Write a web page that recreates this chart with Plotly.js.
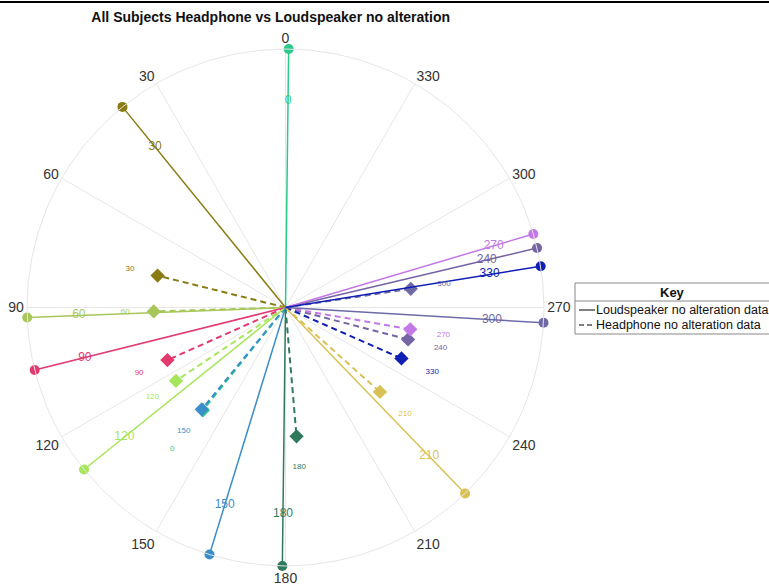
<!DOCTYPE html>
<html>
<head>
<meta charset="utf-8">
<script src="https://cdn.plot.ly/plotly-3.0.1.min.js"></script>
<style>html,body{margin:0;padding:0;background:#fff;}#chart{width:769px;height:586px;}</style>
</head>
<body>
<div id="chart"></div>
<script>
// Target directions (degrees)
const targets = [0, 30, 60, 90, 120, 150, 180, 210, 240, 270, 300, 330];
// Loudspeaker perceived direction (degrees) and length
const loudTheta = [359.3, 39.1, 92.2, 104.0, 128.8, 162.9, 179.3, 224.0, 283.3, 286.5, 266.6, 279.2];
const loudR = [1, 1, 1, 1, 1, 1, 1, 1, 1, 1, 1, 1];
// Headphone perceived direction (degrees) and length
const hpTheta = [141.2, 76.0, 91.7, 114.0, 123.8, 140.6, 184.9, 228.2, 255.4, 260.1, 278.5, 246.3];
const hpR = [0.51, 0.51, 0.51, 0.50, 0.51, 0.51, 0.50, 0.49, 0.49, 0.49, 0.49, 0.49];
const colors = ['#2bc98a', '#8a7a12', '#a9c65a', '#e23a6e', '#a6e65a', '#3b8fc9',
                '#2f7a5c', '#d9c155', '#7564a3', '#c477e6', '#6e6aa8', '#0f1fb4'];
const angTicks = ['0','30','60','90','120','150','180','210','240','270','300','330'];
const legendNames = ['Loudspeaker no alteration data', 'Headphone no alteration data'];

const FONT = 'Arial, Liberation Sans, sans-serif';
const traces = [];
// headphone (dashed)
targets.forEach((t, i) => {
  traces.push({
    type: 'scatterpolar', mode: 'lines+markers',
    r: [0, hpR[i]], theta: [hpTheta[i], hpTheta[i]],
    line: {color: colors[i], width: 2, dash: '6px,4px'},
    marker: {symbol: 'diamond', size: [0, 11], color: colors[i], opacity: 1, line: {width: 0}},
    showlegend: false, hoverinfo: 'skip'
  });
});
// loudspeaker (solid)
targets.forEach((t, i) => {
  traces.push({
    type: 'scatterpolar', mode: 'lines+markers',
    r: [0, loudR[i]], theta: [loudTheta[i], loudTheta[i]],
    line: {color: colors[i], width: 1.5},
    marker: {symbol: 'circle', size: [0, 10], color: colors[i], opacity: 1, line: {width: 0}},
    showlegend: false, hoverinfo: 'skip'
  });
});
// loudspeaker labels with small stagger where labels crowd together
const loudLabR = [];
loudTheta.forEach((th, i) => {
  let r = 0.8;
  for (let j = 0; j < i; j++) {
    if (Math.abs(loudTheta[j] - th) < 3.5 && Math.abs(loudLabR[j] - r) < 0.03) r += 0.04;
  }
  loudLabR.push(r);
});
traces.push({
  type: 'scatterpolar', mode: 'text',
  r: loudLabR, theta: loudTheta,
  text: targets.map(String),
  textfont: {family: FONT, size: 12, color: colors},
  showlegend: false, hoverinfo: 'skip'
});
// headphone labels with simple collision nudge (later targets placed first)
const hpLabR = new Array(hpTheta.length);
for (let i = hpTheta.length - 1; i >= 0; i--) {
  let r = 0.62;
  for (let j = hpTheta.length - 1; j > i; j--) {
    if (Math.abs(hpTheta[j] - hpTheta[i]) < 2 && Math.abs(hpLabR[j] - r) < 0.05) r += 0.08;
  }
  hpLabR[i] = r;
}
traces.push({
  type: 'scatterpolar', mode: 'text',
  r: hpLabR, theta: hpTheta,
  text: targets.map(String),
  textfont: {family: FONT, size: 8, color: colors},
  showlegend: false, hoverinfo: 'skip'
});

// manual key box (pixel -> paper helpers)
const px = x => x / 769;
const py = y => 1 - y / 586;
const shapes = [
  {type: 'line', xref: 'paper', yref: 'paper', x0: 0, x1: 1, y0: py(2), y1: py(2),
    line: {color: '#000', width: 2}},
  {type: 'rect', xref: 'paper', yref: 'paper', x0: px(575), x1: px(772), y0: py(334), y1: py(283),
    line: {color: '#888', width: 1}, fillcolor: '#fff', layer: 'above'},
  {type: 'line', xref: 'paper', yref: 'paper', x0: px(575), x1: px(772), y0: py(301), y1: py(301),
    line: {color: '#888', width: 1}, layer: 'above'},
  {type: 'line', xref: 'paper', yref: 'paper', x0: px(579), x1: px(595), y0: py(310), y1: py(310),
    line: {color: '#000', width: 1}, layer: 'above'},
  {type: 'line', xref: 'paper', yref: 'paper', x0: px(579), x1: px(595), y0: py(325), y1: py(325),
    line: {color: '#000', width: 1, dash: '5px,3px'}, layer: 'above'}
];
const annotations = [
  {xref: 'paper', yref: 'paper', x: px(672), y: py(292), text: '<b>Key</b>', showarrow: false,
    xanchor: 'center', yanchor: 'middle', font: {family: FONT, size: 13, color: '#111'}},
  {xref: 'paper', yref: 'paper', x: px(594), y: py(310), text: legendNames[0], showarrow: false,
    xanchor: 'left', yanchor: 'middle', font: {family: FONT, size: 12.5, color: '#111'}},
  {xref: 'paper', yref: 'paper', x: px(594), y: py(325), text: legendNames[1], showarrow: false,
    xanchor: 'left', yanchor: 'middle', font: {family: FONT, size: 12.5, color: '#111'}}
];

const layout = {
  width: 769, height: 586,
  margin: {l: 0, r: 0, t: 0, b: 0},
  paper_bgcolor: '#fff',
  font: {family: FONT, color: '#222'},
  title: {text: '<b>All Subjects Headphone vs Loudspeaker no alteration</b>',
    x: 0.352, xanchor: 'center', y: 0.971, yanchor: 'middle',
    font: {size: 14, color: '#111', family: FONT}},
  polar: {
    domain: {x: [px(27), px(544)], y: [py(566), py(49)]},
    bgcolor: '#fff',
    radialaxis: {range: [0, 1], visible: true, showticklabels: false, ticks: '',
      showgrid: false, showline: false},
    angularaxis: {direction: 'counterclockwise', rotation: 90,
      tickmode: 'array', tickvals: targets, ticktext: angTicks,
      ticks: '', showline: true, linecolor: '#e6e6e6', linewidth: 1,
      gridcolor: '#e6e6e6', gridwidth: 1,
      tickfont: {size: 14, color: '#333'}}
  },
  showlegend: false,
  shapes: shapes,
  annotations: annotations
};
Plotly.newPlot('chart', traces, layout, {displayModeBar: false});
</script>
</body>
</html>
